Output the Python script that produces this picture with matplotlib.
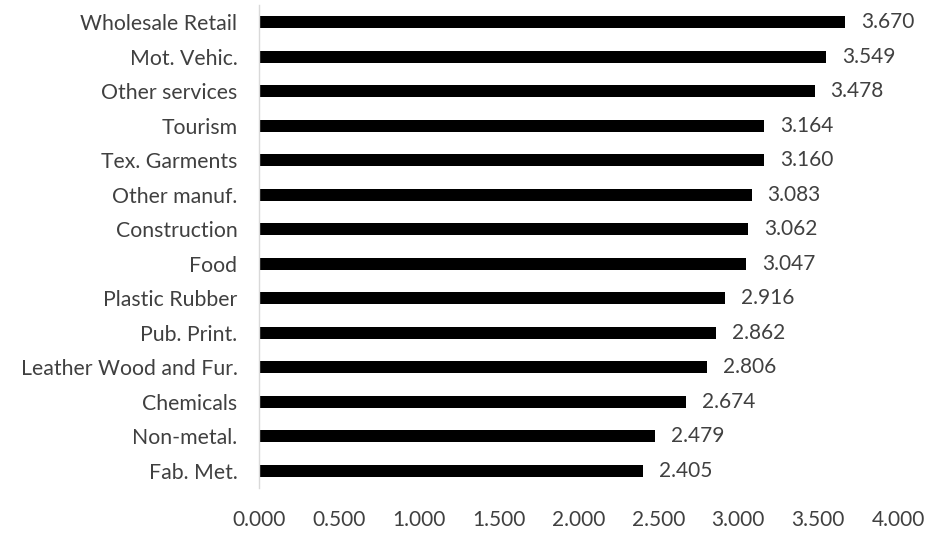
import matplotlib
matplotlib.use("Agg")
import matplotlib.pyplot as plt

categories = ["Wholesale Retail", "Mot. Vehic.", "Other services", "Tourism", "Tex. Garments",
              "Other manuf.", "Construction", "Food", "Plastic Rubber", "Pub. Print.",
              "Leather Wood and Fur.", "Chemicals", "Non-metal.", "Fab. Met."]
values = [3.670, 3.549, 3.478, 3.164, 3.160, 3.083, 3.062, 3.047, 2.916, 2.862,
          2.806, 2.674, 2.479, 2.405]
xticks = [0.0, 0.5, 1.0, 1.5, 2.0, 2.5, 3.0, 3.5, 4.0]

plt.rcParams['font.family'] = ['Lato', 'DejaVu Sans']
txt = '#404040'

fig = plt.figure(figsize=(9.26, 5.33), dpi=100)
ax = fig.add_axes([259/926, 45/533, (898-259)/926, (488-5)/533])

pos = list(range(len(categories)))[::-1]
ax.barh(pos, values, height=0.35, color='black')
for p, v in zip(pos, values):
    ax.annotate(f"{v:.3f}", (v, p), xytext=(11.5, 0), textcoords='offset points',
                va='center', ha='left', fontsize=15, color=txt)

ax.set_xlim(0, 4)
ax.set_ylim(-0.5, len(categories) - 0.5)
ax.set_yticks(pos)
ax.set_yticklabels(categories, fontsize=15.3, color=txt)
ax.set_xticks(xticks)
ax.set_xticklabels([f"{t:.3f}" for t in xticks], fontsize=15, color=txt)
ax.tick_params(axis='x', length=0, pad=16)
ax.tick_params(axis='y', length=0, pad=15.5)
for s in ['top', 'right', 'bottom']:
    ax.spines[s].set_visible(False)
ax.spines['left'].set_color('#d9d9d9')
ax.spines['left'].set_linewidth(1)

fig.savefig("out.png", dpi=100)
